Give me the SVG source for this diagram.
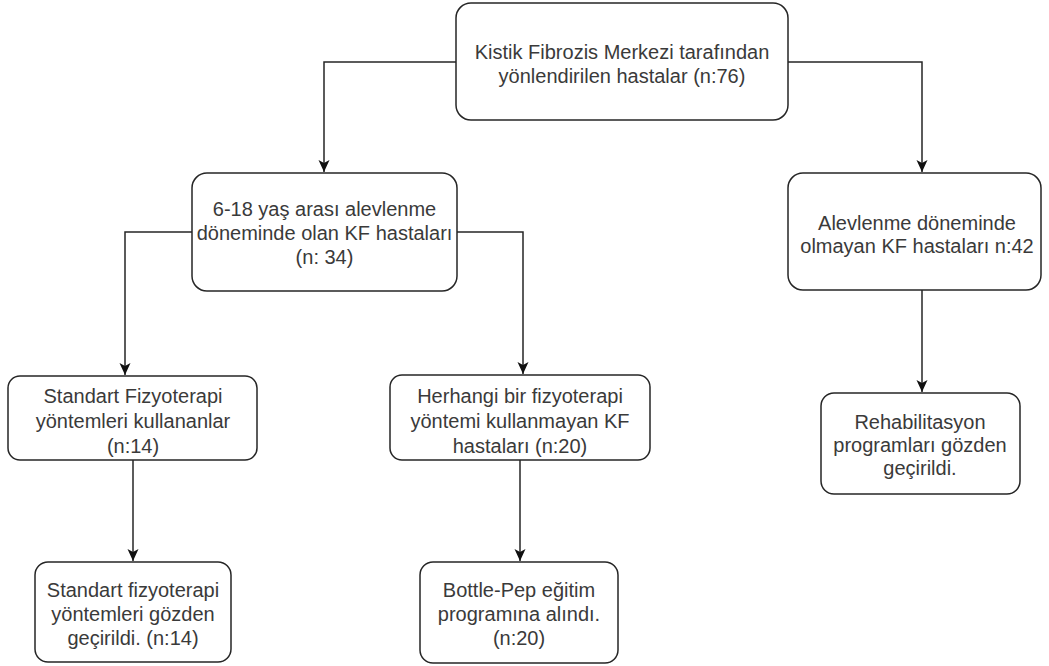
<svg xmlns="http://www.w3.org/2000/svg" width="1049" height="666" viewBox="0 0 1049 666">
<style>
.box{fill:#fff;stroke:#262626;stroke-width:1.5}
.t{font-family:"Liberation Sans",Arial,sans-serif;font-size:20px;fill:#3a3a3a;text-anchor:middle}
.e{fill:none;stroke:#262626;stroke-width:1.5}
</style>
<defs>
<marker id="arr" markerUnits="userSpaceOnUse" markerWidth="14" markerHeight="14" viewBox="0 0 14 14" refX="13" refY="7" orient="auto">
<path d="M1,1.5 L13,7 L1,12.5 L4,7 Z" fill="#111"/>
</marker>
</defs>
<rect width="1049" height="666" fill="#fff"/>
<g id="connectors">
<path class="e" d="M456,62 H324 V172" marker-end="url(#arr)"/>
<path class="e" d="M788,62 H922 V172" marker-end="url(#arr)"/>
<path class="e" d="M192,232 H125 V375" marker-end="url(#arr)"/>
<path class="e" d="M457,232 H523 V374" marker-end="url(#arr)"/>
<path class="e" d="M133,460 V561" marker-end="url(#arr)"/>
<path class="e" d="M520,460 V561" marker-end="url(#arr)"/>
<path class="e" d="M922,290 V392" marker-end="url(#arr)"/>
</g>
<g id="n1">
<rect class="box" x="456" y="3" width="332" height="117" rx="15"/>
<text class="t" x="622" y="59">Kistik Fibrozis Merkezi tarafından</text>
<text class="t" x="622" y="83">yönlendirilen hastalar (n:76)</text>
</g>
<g id="n2">
<rect class="box" x="192" y="173" width="265" height="118" rx="15"/>
<text class="t" x="324.5" y="216">6-18 yaş arası alevlenme</text>
<text class="t" x="324.5" y="240">döneminde olan KF hastaları</text>
<text class="t" x="324.5" y="264">(n: 34)</text>
</g>
<g id="n3">
<rect class="box" x="788" y="173" width="253" height="117" rx="15"/>
<text class="t" x="917" y="230">Alevlenme döneminde</text>
<text class="t" x="917" y="253">olmayan KF hastaları n:42</text>
</g>
<g id="n4">
<rect class="box" x="8" y="376" width="249" height="84" rx="12"/>
<text class="t" x="133" y="403">Standart Fizyoterapi</text>
<text class="t" x="133" y="428">yöntemleri kullananlar</text>
<text class="t" x="133" y="453">(n:14)</text>
</g>
<g id="n5">
<rect class="box" x="390" y="375" width="260" height="85" rx="12"/>
<text class="t" x="520" y="403">Herhangi bir fizyoterapi</text>
<text class="t" x="520" y="428">yöntemi kullanmayan KF</text>
<text class="t" x="520" y="453">hastaları (n:20)</text>
</g>
<g id="n6">
<rect class="box" x="821" y="393" width="199" height="101" rx="13"/>
<text class="t" x="920" y="429">Rehabilitasyon</text>
<text class="t" x="920" y="452">programları gözden</text>
<text class="t" x="920" y="475">geçirildi.</text>
</g>
<g id="n7">
<rect class="box" x="35" y="562" width="196" height="100" rx="13"/>
<text class="t" x="133" y="597">Standart fizyoterapi</text>
<text class="t" x="133" y="621">yöntemleri gözden</text>
<text class="t" x="133" y="645">geçirildi. (n:14)</text>
</g>
<g id="n8">
<rect class="box" x="420" y="562" width="198" height="101" rx="13"/>
<text class="t" x="519" y="597">Bottle-Pep eğitim</text>
<text class="t" x="519" y="621">programına alındı.</text>
<text class="t" x="519" y="645">(n:20)</text>
</g>
</svg>
